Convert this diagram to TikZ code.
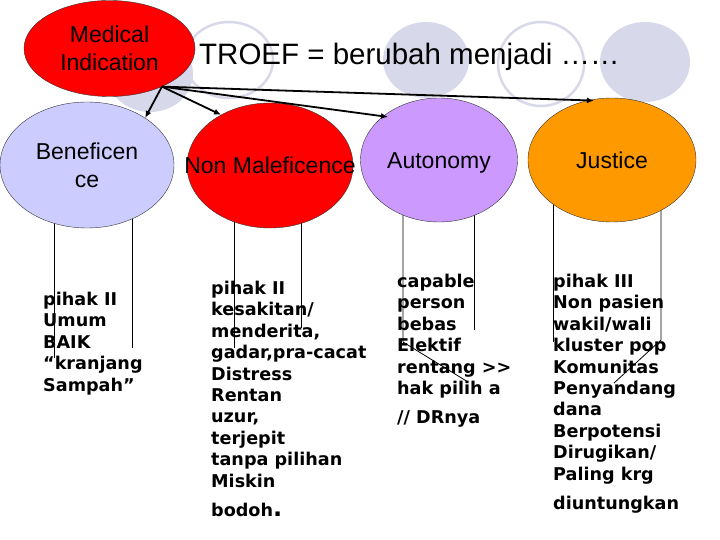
\documentclass[tikz,border=0pt]{standalone}
\usepackage{fontspec}
\setmainfont{Liberation Sans}
\newfontfamily\listfont{DejaVu Sans}
\usetikzlibrary{shapes.geometric, arrows.meta, backgrounds}
\definecolor{lav}{HTML}{CCCCFF}
\definecolor{autcol}{HTML}{CC99FF}
\definecolor{jcol}{HTML}{FF9900}
\definecolor{tmpl}{HTML}{D8D8EB}

\begin{document}
\begin{tikzpicture}[x=1pt, y=-1pt,
  oval/.style={ellipse, draw=black!80, thin, inner sep=0pt},
  hd/.style={font=\fontsize{23}{28}\selectfont, align=center, inner sep=0pt},
  lst/.style={anchor=north west, inner sep=0pt, align=left, font=\listfont\bfseries\fontsize{17.6}{21.4}\selectfont},
  stem/.style={black, line width=0.8pt},
  ring/.style={draw=tmpl, line width=2.5pt},
  >={Latex[length=7pt, width=6pt]}]
\useasboundingbox (0,0) rectangle (720,540);
% template circles behind the title
\fill[tmpl] (150,74) ellipse [x radius=43pt, y radius=38pt];
\draw[ring] (229,60) ellipse [x radius=44pt, y radius=38pt];
\fill[tmpl] (426,60) ellipse [x radius=43pt, y radius=38pt];
\draw[ring] (541,64) ellipse [x radius=43pt, y radius=42pt];
\fill[tmpl] (645,62) ellipse [x radius=45pt, y radius=40pt];

\node[font=\fontsize{29.5}{34}\selectfont, anchor=base west, inner sep=0pt] (title) at (199,65) {TROEF = berubah menjadi ……};

\node[oval, fill=red, minimum width=171, minimum height=96, label={[hd, name=mitext]center:{Medical\\Indication}}] (mi) at (109.5,48.5) {};
\node[oval, fill=lav, minimum width=174, minimum height=126, label={[hd, name=bentext]center:{Beneficen\\ce}}] (ben) at (87,165) {};
\node[oval, fill=red, minimum width=166, minimum height=125, label={[hd, name=nmtext]center:Non Maleficence}] (nm) at (270,165.5) {};
\node[oval, fill=autcol, minimum width=157, minimum height=124, label={[hd, name=auttext, yshift=-3pt]center:Autonomy}] (aut) at (439,160) {};
\node[oval, fill=jcol, minimum width=168, minimum height=124, label={[hd, name=justext]center:Justice}] (jus) at (612,160) {};

\node[lst] (l1) at (43,292) {pihak II\\Umum\\BAIK\\“kranjang\\Sampah”};
\node[lst] (l2) at (211,281) {pihak II\\kesakitan/\\menderita,\\gadar,pra-cacat\\Distress\\Rentan\\uzur,\\terjepit\\tanpa pilihan\\Miskin\\[8pt]bodoh{\fontsize{24}{24}\selectfont.}};
\node[lst] (l3) at (397,274) {capable\\person\\bebas\\Elektif\\rentang >{}>\\hak pilih a\\[7.6pt]// DRnya};
\node[lst] (l4) at (553,274) {pihak III\\Non pasien\\wakil/wali\\kluster pop\\Komunitas\\Penyandang\\dana\\Berpotensi\\Dirugikan/\\Paling krg\\[7.6pt]diuntungkan};

\draw[->, line width=1.8pt] (mi.-36) -- (ben.39);
\draw[->, line width=1.8pt] (mi.-36) -- (nm.134);
\draw[->, line width=1.8pt, shorten >=-5pt] (mi.-36) -- (aut.142);
\draw[->, line width=1.8pt, shorten >=-6pt] (mi.-36) -- (jus.112);

\begin{scope}[on background layer]
\coordinate (b1) at (54,358);  \coordinate (b2) at (132,348);
\coordinate (n1) at (234,348); \coordinate (n2) at (301,328);
\coordinate (a1) at (403,342); \coordinate (a2) at (474,330); \coordinate (a3) at (468,382);
\coordinate (j1) at (553,342); \coordinate (j2) at (661,340); \coordinate (j3) at (614,383);
\draw[stem] (b1 |- ben.center) -- (b1);
\draw[stem] (b2 |- ben.center) -- (b2);
\draw[stem] (n1 |- nm.center) -- (n1);
\draw[stem] (n2 |- nm.center) -- (n2);
\draw[stem] (a1 |- aut.center) -- (a1) -- (a3);
\draw[stem] (a2 |- aut.center) -- (a2);
\draw[stem] (j1 |- jus.center) -- (j1);
\draw[stem] (j2 |- jus.center) -- (j2) -- (j3);
\end{scope}
\end{tikzpicture}
\end{document}
